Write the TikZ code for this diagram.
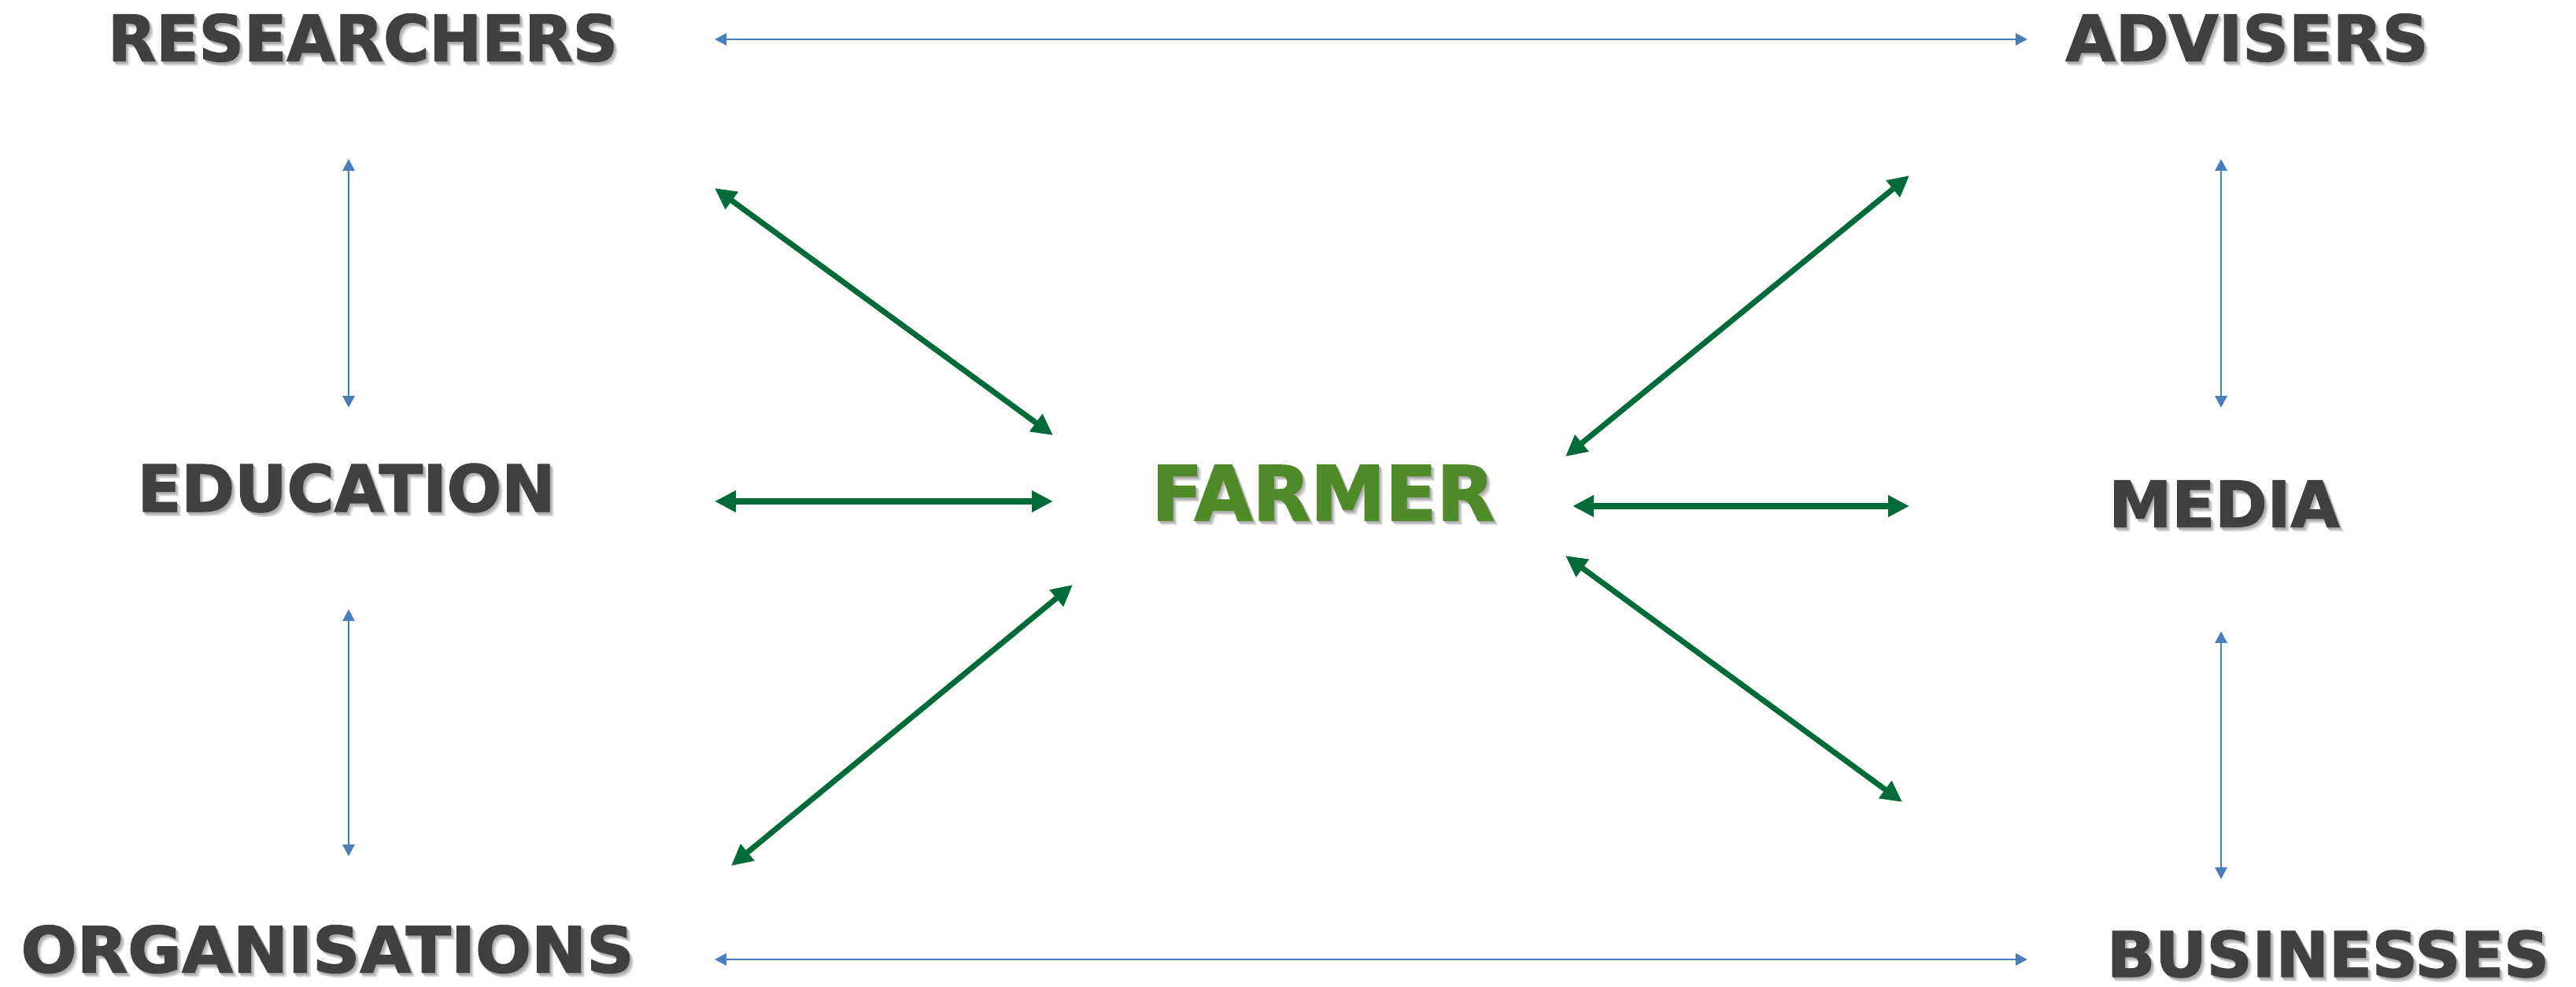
\documentclass[tikz,border=0pt]{standalone}
\usepackage{fontspec}
\setmainfont{DejaVu Sans}
\newfontfamily\heavyface{DejaVu Sans}[UprightFont=*-Bold, BoldFont=*-Bold, FakeBold=1.6]
\usetikzlibrary{arrows.meta,calc}

\definecolor{textgrey}{HTML}{404040}
\definecolor{farmgreen}{HTML}{4E8A27}
\definecolor{linkgreen}{HTML}{006A38}
\definecolor{linkblue}{HTML}{4A7EBB}

% a heavy word stretched to a given width and cap height
\newcommand\capword[3]{\resizebox{#1}{#2}{\heavyface #3}}

\tikzset{
  actor/.style={inner sep=0pt, text=textgrey},
  haze/.style={inner sep=0pt, text=black!9},
  mist/.style={inner sep=0pt, text=black!20},
  dusk/.style={inner sep=0pt, text=black!32},
  peer/.style={linkblue, line width=0.8pt,
    {Triangle[length=0.15cm,width=0.15cm]}-{Triangle[length=0.15cm,width=0.15cm]}},
  tie/.style={linkgreen, line width=2pt,
    {Triangle[length=0.27cm,width=0.26cm]}-{Triangle[length=0.27cm,width=0.26cm]}}
}

% word with a soft drop shadow: name, position, width, height, text, colour
\newcommand\actorword[6]{%
  \node[haze] (#1-h) at ($(#2)+(0.05,-0.055)$) {\capword{#3}{#4}{#5}};
  \node[mist] (#1-m) at ($(#2)+(0.036,-0.042)$) {\capword{#3}{#4}{#5}};
  \node[dusk] (#1-d) at ($(#2)+(0.02,-0.025)$) {\capword{#3}{#4}{#5}};
  \node[actor, text=#6] (#1) at (#2) {\capword{#3}{#4}{#5}};
}

\begin{document}
\begin{tikzpicture}
  \useasboundingbox (0,0) rectangle (32.73,-12.54);

  % words
  \actorword{res}{4.61,-0.48}{6.48cm}{0.60cm}{RESEARCHERS}{textgrey}
  \actorword{adv}{28.55,-0.48}{4.61cm}{0.60cm}{ADVISERS}{textgrey}
  \actorword{edu}{4.40,-6.20}{5.31cm}{0.61cm}{EDUCATION}{textgrey}
  \actorword{farm}{16.81,-6.26}{4.36cm}{0.70cm}{FARMER}{farmgreen}
  \actorword{med}{28.26,-6.40}{2.93cm}{0.59cm}{MEDIA}{textgrey}
  \actorword{org}{4.16,-12.06}{7.79cm}{0.60cm}{ORGANISATIONS}{textgrey}
  \actorword{bus}{29.58,-12.12}{5.62cm}{0.59cm}{BUSINESSES}{textgrey}

  % ends of the links
  \coordinate (tA) at (9.08,-0.50);   \coordinate (tB) at (25.76,-0.50);
  \coordinate (bA) at (9.08,-12.19);  \coordinate (bB) at (25.76,-12.19);
  \coordinate (l1) at (4.43,-2.02);   \coordinate (l2) at (4.43,-5.18);
  \coordinate (l3) at (4.43,-7.74);   \coordinate (l4) at (4.43,-10.88);
  \coordinate (r1) at (28.22,-2.02);  \coordinate (r2) at (28.22,-5.18);
  \coordinate (r3) at (28.22,-8.02);  \coordinate (r4) at (28.22,-11.17);
  \coordinate (g1a) at (9.08,-2.39);  \coordinate (g1b) at (13.38,-5.53);
  \coordinate (g2a) at (9.08,-6.37);  \coordinate (g2b) at (13.38,-6.37);
  \coordinate (g3a) at (9.29,-11.00); \coordinate (g3b) at (13.63,-7.43);
  \coordinate (g4a) at (19.89,-5.80); \coordinate (g4b) at (24.26,-2.23);
  \coordinate (g5a) at (19.98,-6.43); \coordinate (g5b) at (24.26,-6.43);
  \coordinate (g6a) at (19.89,-7.06); \coordinate (g6b) at (24.17,-10.19);

  % links between the outer groups
  \draw[peer] (tA) -- (tB);
  \draw[peer] (bA) -- (bB);
  \draw[peer] (l1) -- (l2);
  \draw[peer] (l3) -- (l4);
  \draw[peer] (r1) -- (r2);
  \draw[peer] (r3) -- (r4);

  % links to the farmer
  \draw[tie] (g1a) -- (g1b);
  \draw[tie] (g2a) -- (g2b);
  \draw[tie] (g3a) -- (g3b);
  \draw[tie] (g4a) -- (g4b);
  \draw[tie] (g5a) -- (g5b);
  \draw[tie] (g6a) -- (g6b);
\end{tikzpicture}
\end{document}
